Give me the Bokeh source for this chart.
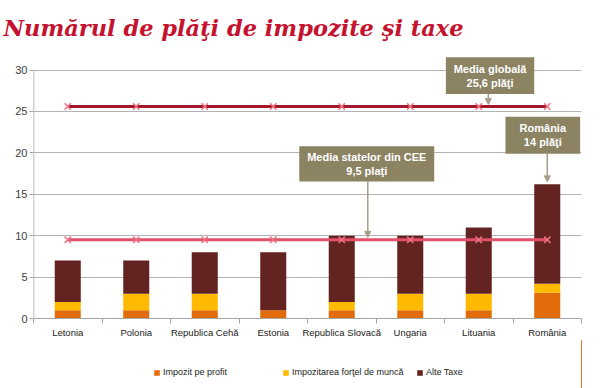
from bokeh.plotting import figure
from bokeh.layouts import column
from bokeh.models import (Range1d, FixedTicker, Legend, LegendItem, BoxAnnotation,
                          Label, Arrow, NormalHead, ColumnDataSource)
from bokeh.embed import file_html
from bokeh.resources import INLINE

# ---- data ----
countries = ["Letonia", "Polonia", "Republica Cehă", "Estonia",
             "Republica Slovacă", "Ungaria", "Lituania", "România"]
impozit_profit = [1, 1, 1, 1, 1, 1, 1, 3.1]
impozitarea_muncii = [1, 2, 2, 0, 1, 2, 2, 1.1]
alte_taxe = [5, 4, 5, 7, 8, 7, 8, 12]
media_globala = 25.6
media_cee = 9.5
y_ticks = [0, 5, 10, 15, 20, 25, 30]
series_names = ["Impozit pe profit", "Impozitarea forţel de muncă", "Alte Taxe"]

# ---- styles ----
C_PROFIT = "#E36C0A"
C_MUNCA = "#FFB900"
C_ALTE = "#622321"
C_GLOBAL = "#A3182C"
C_CEE = "#E3506B"
C_MARK = "#EE7384"
C_BOX = "#8C8363"
C_ARROW = "#A69E88"
C_AXIS = "#A6A6A6"
FONT = "Liberation Sans"
COLORS = [C_PROFIT, C_MUNCA, C_ALTE]
STACK = ["profit", "munca", "alte"]

n = len(countries)
xs = [i + 0.5 for i in range(n)]
totals = [a + b + c for a, b, c in zip(impozit_profit, impozitarea_muncii, alte_taxe)]
src = ColumnDataSource(dict(x=xs, profit=impozit_profit, munca=impozitarea_muncii, alte=alte_taxe))

p = figure(width=600, height=340, x_range=Range1d(0, n), y_range=Range1d(0, 32),
           output_backend="svg", toolbar_location=None,
           min_border_left=33, min_border_right=19, min_border_top=52, min_border_bottom=21)

rs = p.vbar_stack(STACK, x="x", width=0.38, source=src, color=COLORS, line_color=None)

# average lines
p.line(xs, [media_globala] * n, line_color=C_GLOBAL, line_width=3)
p.scatter(xs, [media_globala] * n, marker="x", size=9, line_color=C_MARK, line_width=1.5)
p.line(xs, [media_cee] * n, line_color=C_CEE, line_width=3)
p.scatter(xs, [media_cee] * n, marker="x", size=9, line_color=C_MARK, line_width=1.5)

# axes
p.xaxis.ticker = FixedTicker(ticks=xs, minor_ticks=list(range(n + 1)))
p.xaxis.major_label_overrides = {x: c for x, c in zip(xs, countries)}
p.xaxis.major_tick_line_color = None
p.xaxis.minor_tick_line_color = C_AXIS
p.xaxis.minor_tick_out = 5
p.xaxis.minor_tick_in = 0
p.xaxis.axis_line_color = C_AXIS
p.xaxis.major_label_text_font = FONT
p.xaxis.major_label_text_font_size = "9.5px"
p.xaxis.major_label_text_color = "#1a1a1a"
p.xaxis.major_label_standoff = 2

p.yaxis.ticker = FixedTicker(ticks=y_ticks)
p.yaxis.axis_line_color = None
p.yaxis.major_tick_line_color = C_AXIS
p.yaxis.major_tick_out = 4
p.yaxis.major_tick_in = 0
p.yaxis.minor_tick_line_color = None
p.yaxis.major_label_text_font = FONT
p.yaxis.major_label_text_font_size = "11px"
p.yaxis.major_label_text_color = "#404040"
p.yaxis.major_label_standoff = 2
p.segment(x0=[0], y0=[0], x1=[0], y1=[max(y_ticks)], line_color=C_AXIS, line_width=1.5)

p.xgrid.visible = False
p.ygrid.grid_line_color = "#B3B3B3"
p.outline_line_color = None


def callout(left, right, bottom, top, lines, ax, ay_start, ay_end):
    p.add_layout(BoxAnnotation(left=left, right=right, bottom=bottom, top=top,
                               fill_color=C_BOX, fill_alpha=1, line_color=None))
    cy = (bottom + top) / 2
    off = 0.86
    for k, t in enumerate(lines):
        p.add_layout(Label(x=(left + right) / 2, y=cy + off * (1 - 2 * k), text=t,
                           text_align="center", text_baseline="middle",
                           text_font=FONT, text_font_style="bold", text_font_size="11px",
                           text_color="white"))
    p.add_layout(Arrow(end=NormalHead(size=6, fill_color=C_ARROW, line_color=C_ARROW),
                       x_start=ax, y_start=ay_start, x_end=ax, y_end=ay_end,
                       line_color=C_ARROW, line_width=1.5))


callout(6.02, 7.31, 27.1, 31.55, ["Media globală", "25,6 plăţi"], 6.64, 27.1, media_globala + 0.25)
callout(6.89, 7.98, 19.9, 24.35, ["România", "14 plăţi"], xs[-1], 19.9, totals[-1] + 0.3)
callout(3.88, 5.85, 16.55, 20.8, ["Media statelor din CEE", "9,5 plaţi"], 4.88, 16.55, media_cee + 0.3)

# title
p.title.text = "Numărul de plăţi de impozite şi taxe"
p.title.text_font = "DejaVu Serif"
p.title.text_font_style = "bold italic"
p.title.text_font_size = "22.5px"
p.title.text_color = "#C4122F"
p.title.align = "left"
p.title.standoff = 25
p.title.offset = -30

# legend strip below the chart: a small axis-less figure whose frame aligns with the chart;
# the same stacked bars are drawn there outside its visible range, only as legend proxies
lf = figure(width=600, height=48, x_range=Range1d(-20, -19), y_range=Range1d(0, 1),
            output_backend="svg", toolbar_location=None, min_border=0)
lf.axis.visible = False
lf.grid.visible = False
lf.outline_line_color = None
proxies = lf.vbar_stack(STACK, x="x", width=0.38, source=src, color=COLORS, line_color=None)
for nm, r, lx in zip(series_names, proxies, [120, 249, 383]):
    lf.add_layout(Legend(items=[LegendItem(label=nm, renderers=[r])], location=(lx, 11),
                         orientation="horizontal", glyph_width=7, glyph_height=7, label_height=9,
                         label_text_font=FONT, label_text_font_size="9px",
                         label_text_color="#1a1a1a", padding=0, margin=0,
                         border_line_color=None, background_fill_alpha=0,
                         label_standoff=3, spacing=0))

open("out.html", "w").write(file_html(column(p, lf, spacing=0), INLINE))
